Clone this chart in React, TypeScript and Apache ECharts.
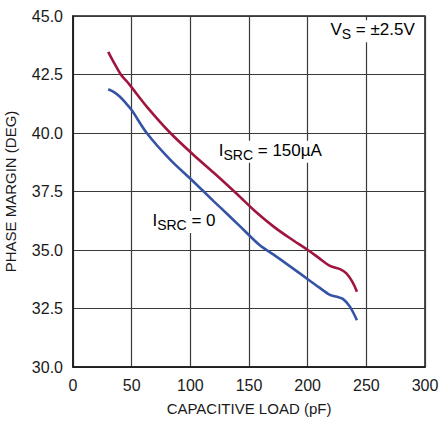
import React, { useEffect, useRef } from "react";
import * as echarts from "echarts";

const FONT = "'Liberation Sans', Arial, sans-serif";

const xTicks = [0, 50, 100, 150, 200, 250, 300];
const yTicks = [30.0, 32.5, 35.0, 37.5, 40.0, 42.5, 45.0];

const src150X = [30, 35, 41, 46, 50, 63, 83, 103, 120, 140, 155, 171, 185, 201, 210, 219, 228, 233, 238, 242];
const src150Y = [43.47, 43.0, 42.48, 42.2, 41.95, 41.12, 40.0, 39.05, 38.3, 37.38, 36.67, 36.0, 35.5, 34.97, 34.64, 34.32, 34.17, 34.0, 33.65, 33.22];

const src0X = [30, 35, 40, 45, 50, 63, 83, 101, 120, 131, 142, 159, 171, 185, 201, 210, 219, 225, 230, 236, 242];
const src0Y = [41.87, 41.75, 41.55, 41.28, 40.98, 39.99, 38.85, 38.0, 37.08, 36.56, 36.03, 35.21, 34.8, 34.3, 33.72, 33.39, 33.08, 33.0, 32.91, 32.58, 32.0];

const RED = "#a0153e";
const BLUE = "#3554a5";

export default function App() {
  const ref = useRef<HTMLDivElement>(null);
  useEffect(() => {
    if (!ref.current) return;
    const chart = echarts.init(ref.current, null, { renderer: "svg" });
    const gridLine = { show: true, lineStyle: { color: "#3a3a3a", width: 1.2 } };
    chart.setOption({
      animation: false,
      backgroundColor: "#ffffff",
      textStyle: { fontFamily: FONT },
      grid: {
        left: 73, right: 17, top: 16, bottom: 54,
        outerBoundsMode: "none",
        containLabel: false,
        show: true, borderColor: "#1a1a1a", borderWidth: 1.5, backgroundColor: "transparent",
      },
      xAxis: {
        type: "value",
        min: xTicks[0],
        max: xTicks[xTicks.length - 1],
        interval: 50,
        name: "CAPACITIVE LOAD (pF)",
        nameLocation: "middle",
        nameGap: 34,
        nameTextStyle: { fontSize: 15, color: "#1a1a1a", fontFamily: FONT },
        axisLine: { show: true, lineStyle: { color: "#1a1a1a", width: 1.5 } },
        axisTick: { show: false },
        axisLabel: { fontSize: 16, color: "#1a1a1a", margin: 10, fontFamily: FONT },
        splitLine: gridLine,
      },
      yAxis: {
        type: "value",
        min: yTicks[0],
        max: yTicks[yTicks.length - 1],
        interval: 2.5,
        name: "PHASE MARGIN (DEG)",
        nameLocation: "middle",
        nameGap: 55,
        nameTextStyle: { fontSize: 15, color: "#1a1a1a", fontFamily: FONT },
        axisLine: { show: true, lineStyle: { color: "#1a1a1a", width: 1.5 } },
        axisTick: { show: false },
        axisLabel: { fontSize: 16, color: "#1a1a1a", margin: 10, fontFamily: FONT, formatter: (v: number) => v.toFixed(1) },
        splitLine: gridLine,
      },
      series: [
        {
          name: "ISRC = 150µA",
          type: "line",
          data: src150X.map((x, i) => [x, src150Y[i]]),
          smooth: 0.3,
          symbol: "none",
          z: 5,
          lineStyle: { color: RED, width: 2.6 },
        },
        {
          name: "ISRC = 0",
          type: "line",
          data: src0X.map((x, i) => [x, src0Y[i]]),
          smooth: 0.3,
          symbol: "none",
          z: 5,
          lineStyle: { color: BLUE, width: 2.6 },
        },
      ],
    });

    const rich = {
      m: { fontSize: 17, fontFamily: FONT, color: "#1a1a1a", lineHeight: 20, verticalAlign: "top" as const },
      s: { fontSize: 14, fontFamily: FONT, color: "#1a1a1a", lineHeight: 14, verticalAlign: "bottom" as const },
    };
    const label = (dx: number, dy: number, text: string, align: string) => {
      const p = chart.convertToPixel({ gridIndex: 0 }, [dx, dy]) as number[];
      return {
        type: "text",
        x: p[0],
        y: p[1],
        z: 1,
        zlevel: 0,
        style: {
          text,
          rich,
          align,
          verticalAlign: "middle",
          backgroundColor: "#ffffff",
          padding: [1, 2, 1, 2],
        },
      };
    };
    chart.setOption({
      graphic: [
        label(122.5, 39.2, "{m|I}{s|SRC}{m| = 150µA}", "left"),
        label(66, 36.2, "{m|I}{s|SRC}{m| = 0}", "left"),
        label(293, 44.35, "{m|V}{s|S}{m| = ±2.5V}", "right"),
      ],
    });
    return () => chart.dispose();
  }, []);
  return <div ref={ref} style={{ position: "fixed", left: 0, top: 0, width: 442, height: 421 }} />;
}
